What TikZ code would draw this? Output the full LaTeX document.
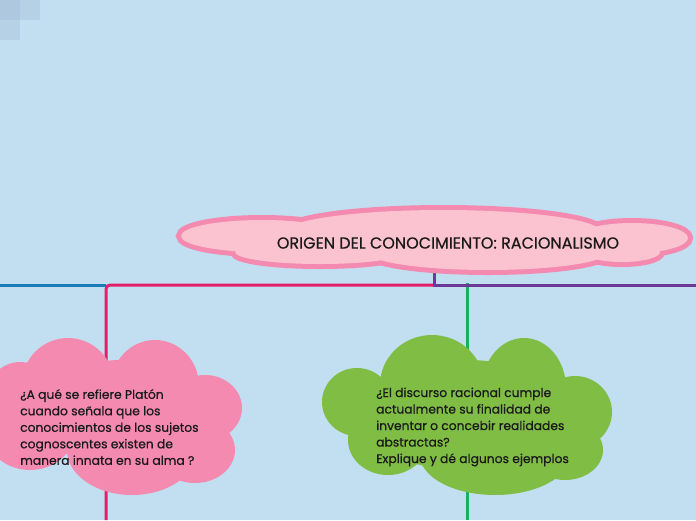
\documentclass[tikz,border=0pt]{standalone}
\usepackage{fontspec}
\setmainfont{Poppins}[FakeBold=0.6]

\definecolor{bgblue}{HTML}{C2DEF1}
\definecolor{tilea}{HTML}{AEC8DF}
\definecolor{tileb}{HTML}{B6D0E6}
\definecolor{rootfill}{HTML}{FBC3CF}
\definecolor{rosa}{HTML}{F48AB0}
\definecolor{verde}{HTML}{80BD44}
\definecolor{lineblue}{HTML}{1B7DB8}
\definecolor{linepink}{HTML}{E31F6A}
\definecolor{linepurple}{HTML}{6B3A96}
\definecolor{linegreen}{HTML}{1BAF60}
\definecolor{ink}{HTML}{1A1A1A}

\pgfdeclarelayer{bg}
\pgfdeclarelayer{links}
\pgfsetlayers{bg,links,main}

\begin{document}
\begin{tikzpicture}[x=1pt,y=-1pt]
  \tikzstyle{branch}=[line width=3pt]
  \tikzstyle{title}=[text=ink,inner sep=0pt,font=\fontsize{16}{18}\selectfont]
  \tikzstyle{question}=[text=ink,align=left,anchor=west,inner sep=0pt,
                        font=\fontsize{12.3}{16.5}\selectfont]

  % background and corner tiles
  \begin{pgfonlayer}{bg}
    \fill[bgblue] (0,0) rectangle (696,520);
    \fill[tileb] (20,0) rectangle (40,20);
    \fill[tileb] (0,20) rectangle (20,40);
    \fill[tilea] (0,0) rectangle (20,20);
  \end{pgfonlayer}
  \useasboundingbox (0,0) rectangle (696,520);

  % main cloud: outline first, then the fill over it
  \foreach \cx/\cy/\rx/\ry in {262/236/81/16, 443/232/158/22, 632/238/56/15,
                               320/252/85/12, 488/253/118/17, 622/252/38/10}
    \draw[rosa,line width=10pt] (\cx,\cy) ellipse ({\rx} and {\ry});
  \foreach \cx/\cy/\rx/\ry in {262/236/81/16, 443/232/158/22, 632/238/56/15,
                               320/252/85/12, 488/253/118/17, 622/252/38/10}
    \fill[rootfill] (\cx,\cy) ellipse ({\rx} and {\ry});

  % left question cloud
  \foreach \cx/\cy/\rx/\ry in {68/384/46/46, 155/386/44/46, 205/408/37/33,
                               195/450/40/33, 132/450/65/45, 30/430/45/40,
                               20/400/35/38, 120/415/75/55}
    \fill[rosa] (\cx,\cy) ellipse ({\rx} and {\ry});

  % right question cloud
  \foreach \cx/\cy/\rx/\ry in {432/385/52/50, 524/388/42/50, 575/412/37/36,
                               565/450/38/30, 495/455/75/40, 388/440/40/35,
                               357/402/35/34, 466/415/110/55}
    \fill[verde] (\cx,\cy) ellipse ({\rx} and {\ry});

  % texts
  \node[title] (root) at (448,243) {ORIGEN DEL CONOCIMIENTO: RACIONALISMO};
  \node[question] (q1) at (20,427)
        {¿A qué se refiere Platón\\cuando señala que los\\conocimientos de los sujetos\\cognoscentes existen de\\manera innata en su alma ?};
  \node[question] (q2) at (376,427)
        {¿El discurso racional cumple\\actualmente su finalidad de\\inventar o concebir realidades\\abstractas?\\Explique y dé algunos ejemplos};

  % branch points
  \coordinate (hub) at (434,285);
  \coordinate (turn) at (106,285);
  \coordinate (leftend) at (0,285);
  \coordinate (rightend) at (696,285);
  \coordinate (q1end) at (106,520);
  \coordinate (q2end) at (467,520);

  % links
  \begin{pgfonlayer}{links}
    \draw[branch,linegreen] ([yshift=2pt]q2end |- hub) -- (q2end);
    \draw[branch,linepink,rounded corners=4pt] (hub) -- (turn) -- (q1end);
    \draw[branch,lineblue] (turn) -- (leftend);
    \draw[branch,linepurple] (hub |- root.south) -- (hub) -- (rightend);
  \end{pgfonlayer}
\end{tikzpicture}
\end{document}
